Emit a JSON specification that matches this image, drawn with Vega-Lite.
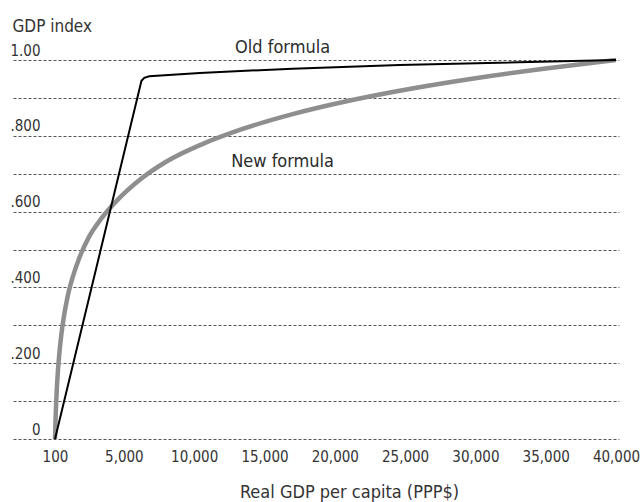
{
  "$schema": "https://vega.github.io/schema/vega-lite/v6.json",
  "autosize": "none",
  "width": 606,
  "height": 379,
  "padding": {"top": 60, "left": 13, "right": 22, "bottom": 63},
  "background": "white",
  "config": {
    "view": {"stroke": null},
    "font": "DejaVu Sans Condensed, DejaVu Sans, sans-serif",
    "axis": {"labelFont": "DejaVu Sans Condensed, DejaVu Sans, sans-serif", "titleFont": "DejaVu Sans Condensed, DejaVu Sans, sans-serif"}
  },
  "datasets": {
    "curves": [
      {"gdp": 100, "index": 0, "series": "New formula"},
      {"gdp": 130, "index": 0.04, "series": "New formula"},
      {"gdp": 170, "index": 0.083, "series": "New formula"},
      {"gdp": 220, "index": 0.125, "series": "New formula"},
      {"gdp": 300, "index": 0.175, "series": "New formula"},
      {"gdp": 400, "index": 0.222, "series": "New formula"},
      {"gdp": 550, "index": 0.275, "series": "New formula"},
      {"gdp": 750, "index": 0.327, "series": "New formula"},
      {"gdp": 1000, "index": 0.376, "series": "New formula"},
      {"gdp": 1350, "index": 0.426, "series": "New formula"},
      {"gdp": 1800, "index": 0.475, "series": "New formula"},
      {"gdp": 2500, "index": 0.532, "series": "New formula"},
      {"gdp": 3400, "index": 0.582, "series": "New formula"},
      {"gdp": 4500, "index": 0.629, "series": "New formula"},
      {"gdp": 6000, "index": 0.68, "series": "New formula"},
      {"gdp": 8000, "index": 0.7314, "series": "New formula"},
      {"gdp": 10500, "index": 0.7768, "series": "New formula"},
      {"gdp": 13500, "index": 0.8187, "series": "New formula"},
      {"gdp": 17000, "index": 0.8572, "series": "New formula"},
      {"gdp": 21000, "index": 0.8925, "series": "New formula"},
      {"gdp": 25500, "index": 0.9249, "series": "New formula"},
      {"gdp": 30000, "index": 0.952, "series": "New formula"},
      {"gdp": 35000, "index": 0.9777, "series": "New formula"},
      {"gdp": 40000, "index": 1.0, "series": "New formula"},
      {"gdp": 100, "index": 0, "series": "Old formula"},
      {"gdp": 6250, "index": 0.945, "series": "Old formula"},
      {"gdp": 6450, "index": 0.953, "series": "Old formula"},
      {"gdp": 6800, "index": 0.957, "series": "Old formula"},
      {"gdp": 10400, "index": 0.966, "series": "Old formula"},
      {"gdp": 17000, "index": 0.977, "series": "Old formula"},
      {"gdp": 24600, "index": 0.987, "series": "Old formula"},
      {"gdp": 40000, "index": 1.0, "series": "Old formula"}
    ],
    "labels": [
      {"gdp": 16288, "index": 1.0185, "label": "Old formula"},
      {"gdp": 16288, "index": 0.7185, "label": "New formula"}
    ]
  },
  "encoding": {
    "x": {
      "field": "gdp", "type": "quantitative",
      "scale": {"domain": [-2887, 40213], "nice": false, "zero": false},
      "axis": {
        "values": [100, 5000, 10000, 15000, 20000, 25000, 30000, 35000, 40000],
        "labelExpr": "format(datum.value, ',d')",
        "grid": false, "domain": false, "ticks": false, "tickSize": 0,
        "labelPadding": 10, "labelFontSize": 15, "labelColor": "#333333", "labelFlush": false,
        "title": "Real GDP per capita (PPP$)",
        "titleFontSize": 18, "titleFontWeight": "normal", "titleColor": "#333333",
        "titleX": 336, "titleY": 58, "titleBaseline": "alphabetic", "titleAlign": "center"
      }
    },
    "y": {
      "field": "index", "type": "quantitative",
      "scale": {"domain": [0, 1], "nice": false},
      "axis": {
        "values": [0, 0.1, 0.2, 0.3, 0.4, 0.5, 0.6, 0.7, 0.8, 0.9, 1],
        "labelExpr": "datum.value == 1 ? '1.00' : datum.value == 0 ? '0' : (round(datum.value * 10) % 2 == 0 ? replace(format(datum.value, '.3f'), '0.', '.') : '')",
        "grid": true, "gridDash": [3, 2], "gridColor": "#555555", "gridWidth": 1,
        "domain": false, "ticks": false, "tickSize": 0,
        "labelAlign": "right", "labelBaseline": "alphabetic", "labelPadding": -27, "labelOffset": -5,
        "labelFontSize": 15, "labelColor": "#333333", "labelFlush": false,
        "title": "GDP index", "titleAngle": 0, "titleAlign": "left", "titleBaseline": "alphabetic",
        "titleX": -1, "titleY": -29, "titleFontSize": 17, "titleFontWeight": "normal", "titleColor": "#333333"
      }
    }
  },
  "layer": [
    {
      "data": {"name": "curves"},
      "transform": [{"filter": "datum.series == 'New formula'"}],
      "mark": {"type": "line", "interpolate": "monotone", "color": "#8e8e8e", "strokeWidth": 4.5, "clip": false}
    },
    {
      "data": {"name": "curves"},
      "transform": [{"filter": "datum.series == 'Old formula'"}],
      "mark": {"type": "line", "interpolate": "linear", "color": "#000000", "strokeWidth": 2, "clip": false}
    },
    {
      "data": {"name": "labels"},
      "mark": {"type": "text", "fontSize": 18, "color": "#2b2b2b", "align": "center", "baseline": "alphabetic", "clip": false},
      "encoding": {"text": {"field": "label"}}
    }
  ]
}
